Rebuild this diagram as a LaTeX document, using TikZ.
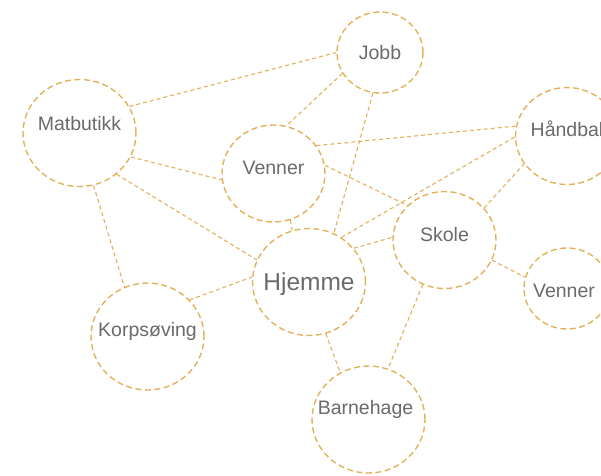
\documentclass[tikz,border=0pt]{standalone}
\usepackage{fontspec}
\setmainfont{Liberation Sans}
\usetikzlibrary{shapes.geometric}

\definecolor{gold}{HTML}{E2B15A}
\definecolor{txtgray}{HTML}{6A6A6A}

\tikzset{
  place/.style={ellipse, draw=gold, line width=1.4pt, dash pattern=on 6pt off 3.5pt, inner sep=0pt},
  circbig/.style={place, minimum width=113pt, minimum height=107pt},
  circmid/.style={place, minimum width=103pt, minimum height=97pt},
  circsmall/.style={place, minimum width=86pt, minimum height=81pt},
  lbl/.style={text=txtgray, font=\fontsize{19.5}{20}\selectfont, text height=14pt, text depth=0pt, inner sep=0pt},
  lblbig/.style={lbl, font=\fontsize{24.5}{25}\selectfont, text height=17.6pt},
  link/.style={draw=gold, line width=1.1pt, dash pattern=on 4pt off 3pt},
}

\begin{document}
\begin{tikzpicture}[x=1pt, y=-1pt]
		\useasboundingbox (0,0) rectangle (601,475);

		% Define nodes
		\node[circbig] (mat) at (79.5,133) [label={[lbl, yshift=10pt]center:Matbutikk}] {};
		\node[circsmall] (job) at (380,52.5) [label={[lbl]center:Jobb}] {};
		\node[circmid] (ven) at (273.5,173.5) [label={[lbl, yshift=6pt]center:Venner}] {};
		\node[circmid] (han) at (567,136) [label={[lbl, yshift=7pt]center:Håndbal}] {};
		\node[circmid] (sko) at (444.5,240) [label={[lbl, yshift=6pt]center:Skole}] {};
		\node[circbig] (hje) at (309,282) [label={[lblbig]center:Hjemme}] {};
		\node[circbig] (kor) at (147.5,336.5) [label={[lbl, yshift=7pt]center:Korpsøving}] {};
		\node[circbig] (bar) at (368.5,419.5) [label={[lbl, yshift=12pt, xshift=-3pt]center:Barnehage}] {};
		\node[circsmall] (ve2) at (567,288.5) [label={[lbl, yshift=-2pt, xshift=-3pt]center:Venner}] {};

		% Connect the nodes
		\foreach \a/\b in {mat.28.6/job.180, mat.-25.4/ven.187.2, mat.-48.2/hje.157.8,
			mat.-75.7/kor.115.4, job.209.4/ven.75.5, job.260.2/hje.63.4,
			ven.33.5/han.169.5, ven.9.7/sko.137.5, ven.-70.5/hje.108.8,
			hje.54.2/han.181, sko.39.2/han.213, hje.37.7/sko.177.8,
			sko.-23.9/ve2.165, sko.244.5/bar.69.6, hje.-72.6/bar.121,
			kor.41.3/hje.175.9}
			\draw[link] (\a) -- (\b);

\end{tikzpicture}
\end{document}
